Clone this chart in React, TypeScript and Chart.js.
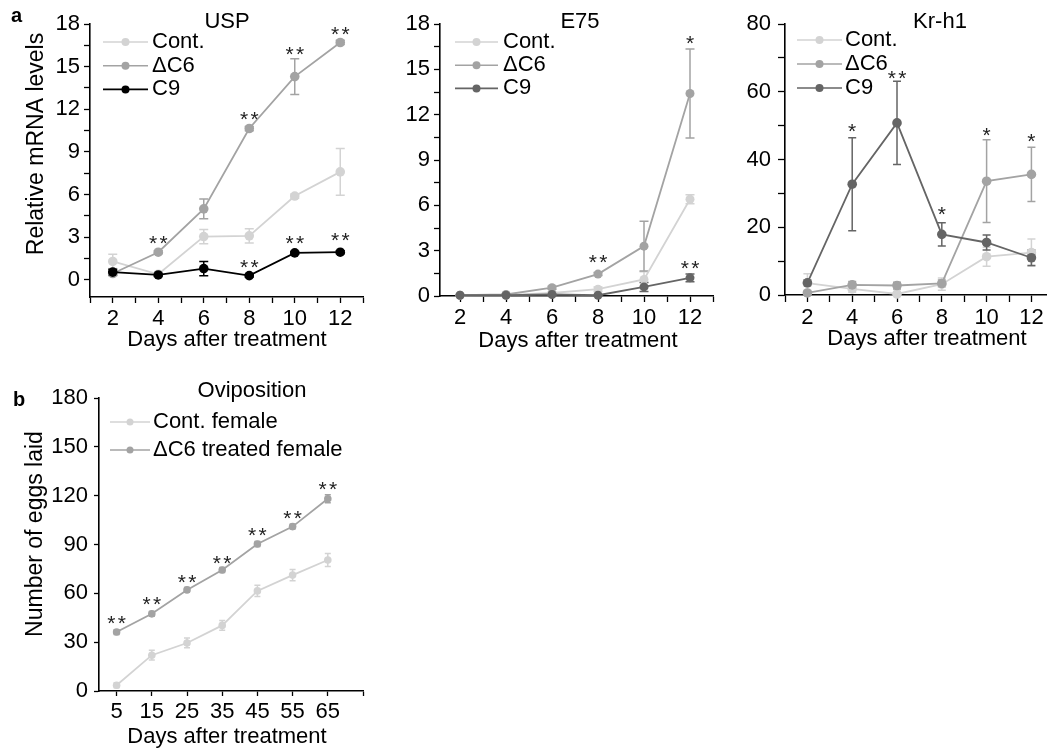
import React, { useEffect, useRef } from 'react';
import { Chart, registerables } from 'chart.js';

Chart.register(...registerables);

const FONT = "'Liberation Sans', Arial, Helvetica, sans-serif";
const C_CONT = '#d3d3d3';
const C_DC6 = '#a3a3a3';
const C_C9_BLACK = '#000000';
const C_C9_GRAY = '#656565';

// ---------- data ----------
const DAYS = [2, 4, 6, 8, 10, 12];

const USP_CONT = [1.3, 0.4, 3.05, 3.1, 5.9, 7.6];
const USP_CONT_ERR = [0.5, 0.1, 0.5, 0.5, 0.15, 1.65];
const USP_DC6 = [0.45, 1.95, 5.0, 10.65, 14.3, 16.7];
const USP_DC6_ERR = [0.15, 0.1, 0.7, 0.15, 1.25, 0.15];
const USP_C9 = [0.55, 0.35, 0.8, 0.3, 1.9, 1.95];
const USP_C9_ERR = [0.2, 0.1, 0.5, 0.1, 0.1, 0.1];
const USP_SIG_X = [4, 8, 10, 12, 8, 10, 12];
const USP_SIG_Y = [3.0, 1.3, 3.0, 3.2, 11.7, 16.3, 17.7];
const USP_SIG_TXT = ['**', '**', '**', '**', '**', '**', '**'];

const E75_CONT = [0.05, 0.05, 0.2, 0.45, 1.1, 6.4];
const E75_CONT_ERR = [0.02, 0.02, 0.05, 0.15, 0.5, 0.3];
const E75_DC6 = [0.05, 0.1, 0.55, 1.45, 3.3, 13.4];
const E75_DC6_ERR = [0.02, 0.05, 0.1, 0.1, 1.65, 2.95];
const E75_C9 = [0.05, 0.05, 0.1, 0.05, 0.6, 1.2];
const E75_C9_ERR = [0.02, 0.02, 0.05, 0.02, 0.3, 0.25];
const E75_SIG_X = [8, 12, 12];
const E75_SIG_Y = [2.6, 17.1, 2.25];
const E75_SIG_TXT = ['**', '*', '**'];

const KR_CONT = [3.5, 1.8, 0.3, 3.2, 11.3, 12.5];
const KR_CONT_ERR = [2.8, 1.0, 0.5, 1.8, 2.8, 4.0];
const KR_DC6 = [0.6, 3.0, 2.8, 3.4, 33.6, 35.6];
const KR_DC6_ERR = [0.5, 1.0, 1.0, 1.0, 12.2, 8.0];
const KR_C9 = [3.6, 32.7, 50.8, 17.9, 15.5, 11.0];
const KR_C9_ERR = [0.8, 13.7, 12.3, 3.4, 2.2, 2.3];
const KR_SIG_X = [4, 6, 8, 10, 12];
const KR_SIG_Y = [49.9, 65.8, 25.4, 49, 47.2];
const KR_SIG_TXT = ['*', '**', '*', '*', '*'];

const OVI_DAYS = [5, 15, 25, 35, 45, 55, 65];
const OVI_CONT = [3.5, 22, 29.5, 40.3, 61.5, 71.2, 80.5];
const OVI_CONT_ERR = [1.5, 3, 3, 3, 3.5, 3.5, 4];
const OVI_DC6 = [36.2, 47.4, 62.1, 74.3, 90.3, 101, 118.1];
const OVI_DC6_ERR = [1.5, 1.5, 1.5, 1.5, 1.5, 1.5, 2.5];
const OVI_SIG_X = [5, 15, 25, 35, 45, 55, 65];
const OVI_SIG_Y = [45.2, 56.6, 70.6, 82.2, 99.4, 109.8, 127.2];
const OVI_SIG_TXT = ['**', '**', '**', '**', '**', '**', '**'];

// ---------- ticks ----------
const DAY_TICKS_USP = [1, 2, 3, 4, 5, 6, 7, 8, 9, 10, 11, 12, 13];
const DAY_TICKS_E75 = [2, 3, 4, 5, 6, 7, 8, 9, 10, 11, 12, 13];
const DAY_TICKS_KR = [1, 2, 3, 4, 5, 6, 7, 8, 9, 10, 11, 12];
const DAY_LABELS = [2, 4, 6, 8, 10, 12];
const Y_TICKS_18 = [0, 1.5, 3, 4.5, 6, 7.5, 9, 10.5, 12, 13.5, 15, 16.5, 18];
const Y_LABELS_18 = [0, 3, 6, 9, 12, 15, 18];
const Y_TICKS_80 = [0, 10, 20, 30, 40, 50, 60, 70, 80];
const Y_LABELS_80 = [0, 20, 40, 60, 80];
const OVI_X_TICKS = [5, 15, 25, 35, 45, 55, 65, 75];
const OVI_X_LABELS = [5, 15, 25, 35, 45, 55, 65];
const OVI_Y_TICKS = [0, 30, 60, 90, 120, 150, 180];
const OVI_Y_LABELS = [0, 30, 60, 90, 120, 150, 180];

type Series = { label: string; values: number[]; err: number[]; color: string; order: number };
type TextItem = { text: string; x: number; y: number; font: string; align?: CanvasTextAlign; rotate?: boolean };
type PanelCfg = {
  id: string;
  canvas: { x: number; y: number; w: number; h: number };
  area: { left: number; top: number; right: number; bottom: number };
  xs: number[];
  series: Series[];
  xMin: number; xMax: number; xTicks: number[]; xLabels: number[];
  yMin: number; yMax: number; yTicks: number[]; yLabels: number[];
  tickLen: number; yPad: number;
  pointR: number; cap: number;
  sigX: number[]; sigY: number[]; sigTxt: string[];
  legend: { x0: number; x1: number; tx: number; y0: number; dy: number; r: number };
  texts: TextItem[];
};

const F22 = `22px ${FONT}`;
const F23 = `23px ${FONT}`;
const FB20 = `bold 20px ${FONT}`;

const PANELS: PanelCfg[] = [
  {
    id: 'usp',
    canvas: { x: 0, y: 0, w: 372, h: 360 },
    area: { left: 90, top: 24, right: 363, bottom: 297 },
    xs: DAYS,
    series: [
      { label: 'Cont.', values: USP_CONT, err: USP_CONT_ERR, color: C_CONT, order: 2 },
      { label: 'ΔC6', values: USP_DC6, err: USP_DC6_ERR, color: C_DC6, order: 1 },
      { label: 'C9', values: USP_C9, err: USP_C9_ERR, color: C_C9_BLACK, order: 0 },
    ],
    xMin: 1, xMax: 13, xTicks: DAY_TICKS_USP, xLabels: DAY_LABELS,
    yMin: -1.2, yMax: 18, yTicks: Y_TICKS_18, yLabels: Y_LABELS_18,
    tickLen: 6, yPad: 4, pointR: 4.8, cap: 4.5,
    sigX: USP_SIG_X, sigY: USP_SIG_Y, sigTxt: USP_SIG_TXT,
    legend: { x0: 103, x1: 148, tx: 152, y0: 42, dy: 23.7, r: 4 },
    texts: [
      { text: 'USP', x: 227, y: 22, font: F22 },
      { text: 'Days after treatment', x: 227, y: 340, font: F22 },
      { text: 'Relative mRNA levels', x: 37, y: 144, font: F23, rotate: true },
      { text: 'a', x: 11, y: 16, font: FB20, align: 'left' },
    ],
  },
  {
    id: 'e75',
    canvas: { x: 372, y: 0, w: 348, h: 360 },
    area: { left: 440, top: 24, right: 713, bottom: 296 },
    xs: DAYS,
    series: [
      { label: 'Cont.', values: E75_CONT, err: E75_CONT_ERR, color: C_CONT, order: 2 },
      { label: 'ΔC6', values: E75_DC6, err: E75_DC6_ERR, color: C_DC6, order: 1 },
      { label: 'C9', values: E75_C9, err: E75_C9_ERR, color: C_C9_GRAY, order: 0 },
    ],
    xMin: 1.13, xMax: 13, xTicks: DAY_TICKS_E75, xLabels: DAY_LABELS,
    yMin: 0, yMax: 18, yTicks: Y_TICKS_18, yLabels: Y_LABELS_18,
    tickLen: 6, yPad: 4, pointR: 4.5, cap: 4.5,
    sigX: E75_SIG_X, sigY: E75_SIG_Y, sigTxt: E75_SIG_TXT,
    legend: { x0: 455, x1: 498, tx: 503, y0: 42, dy: 23.2, r: 4 },
    texts: [
      { text: 'E75', x: 580, y: 22, font: F22 },
      { text: 'Days after treatment', x: 578, y: 341, font: F22 },
    ],
  },
  {
    id: 'kr',
    canvas: { x: 720, y: 0, w: 331, h: 360 },
    area: { left: 785, top: 24, right: 1049, bottom: 295 },
    xs: DAYS,
    series: [
      { label: 'Cont.', values: KR_CONT, err: KR_CONT_ERR, color: C_CONT, order: 2 },
      { label: 'ΔC6', values: KR_DC6, err: KR_DC6_ERR, color: C_DC6, order: 1 },
      { label: 'C9', values: KR_C9, err: KR_C9_ERR, color: C_C9_GRAY, order: 0 },
    ],
    xMin: 1, xMax: 12.66, xTicks: DAY_TICKS_KR, xLabels: DAY_LABELS,
    yMin: 0, yMax: 80, yTicks: Y_TICKS_80, yLabels: Y_LABELS_80,
    tickLen: 7, yPad: 7, pointR: 4.8, cap: 4,
    sigX: KR_SIG_X, sigY: KR_SIG_Y, sigTxt: KR_SIG_TXT,
    legend: { x0: 797, x1: 842, tx: 845, y0: 40, dy: 24, r: 4 },
    texts: [
      { text: 'Kr-h1', x: 940, y: 22, font: F22 },
      { text: 'Days after treatment', x: 927, y: 339, font: F22 },
    ],
  },
  {
    id: 'ovi',
    canvas: { x: 0, y: 360, w: 372, h: 391 },
    area: { left: 99, top: 398, right: 363, bottom: 691 },
    xs: OVI_DAYS,
    series: [
      { label: 'Cont. female', values: OVI_CONT, err: OVI_CONT_ERR, color: C_CONT, order: 1 },
      { label: 'ΔC6 treated female', values: OVI_DC6, err: OVI_DC6_ERR, color: C_DC6, order: 0 },
    ],
    xMin: 0, xMax: 75, xTicks: OVI_X_TICKS, xLabels: OVI_X_LABELS,
    yMin: 0, yMax: 180, yTicks: OVI_Y_TICKS, yLabels: OVI_Y_LABELS,
    tickLen: 5, yPad: 6, pointR: 3.8, cap: 3,
    sigX: OVI_SIG_X, sigY: OVI_SIG_Y, sigTxt: OVI_SIG_TXT,
    legend: { x0: 110, x1: 150, tx: 153, y0: 422, dy: 28, r: 3.5 },
    texts: [
      { text: 'Oviposition', x: 252, y: 391, font: F22 },
      { text: 'Days after treatment', x: 227, y: 737, font: F22 },
      { text: 'Number of eggs laid', x: 36, y: 534, font: F23, rotate: true },
      { text: 'b', x: 13, y: 400, font: FB20, align: 'left' },
    ],
  },
];

function makeDecor(cfg: PanelCfg) {
  const ox = cfg.canvas.x;
  const oy = cfg.canvas.y;
  const sorted = [...cfg.series].sort((a, b) => b.order - a.order);
  return {
    id: 'decor_' + cfg.id,
    beforeDatasetsDraw(chart: any) {
      const ctx = chart.ctx as CanvasRenderingContext2D;
      const xs = chart.scales.x;
      const ys = chart.scales.y;
      ctx.save();
      ctx.lineWidth = 1.5;
      sorted.forEach((s) => {
        ctx.strokeStyle = s.color;
        cfg.xs.forEach((x, i) => {
          const e = s.err[i];
          if (!e) return;
          const px = xs.getPixelForValue(x);
          const y1 = ys.getPixelForValue(s.values[i] + e);
          const y2 = ys.getPixelForValue(s.values[i] - e);
          ctx.beginPath();
          ctx.moveTo(px, y1);
          ctx.lineTo(px, y2);
          ctx.moveTo(px - cfg.cap, y1);
          ctx.lineTo(px + cfg.cap, y1);
          ctx.moveTo(px - cfg.cap, y2);
          ctx.lineTo(px + cfg.cap, y2);
          ctx.stroke();
        });
      });
      ctx.restore();
    },
    afterDatasetsDraw(chart: any) {
      const ctx = chart.ctx as CanvasRenderingContext2D;
      const xs = chart.scales.x;
      const ys = chart.scales.y;
      ctx.save();
      ctx.fillStyle = '#222';
      ctx.font = `21px ${FONT}`;
      ctx.textAlign = 'center';
      ctx.textBaseline = 'alphabetic';
      cfg.sigX.forEach((x, i) => {
        const px = xs.getPixelForValue(x);
        const py = ys.getPixelForValue(cfg.sigY[i]) + 12.5;
        const txt = cfg.sigTxt[i];
        const n = txt.length;
        const gap = 10.5;
        for (let k = 0; k < n; k++) {
          ctx.fillText('*', px + (k - (n - 1) / 2) * gap, py);
        }
      });
      ctx.restore();
    },
    afterDraw(chart: any) {
      const ctx = chart.ctx as CanvasRenderingContext2D;
      ctx.save();
      // legend
      const L = cfg.legend;
      cfg.series.forEach((s, i) => {
        const y = L.y0 + i * L.dy - oy;
        ctx.strokeStyle = s.color;
        ctx.lineWidth = 1.6;
        ctx.beginPath();
        ctx.moveTo(L.x0 - ox, y);
        ctx.lineTo(L.x1 - ox, y);
        ctx.stroke();
        ctx.fillStyle = s.color;
        ctx.beginPath();
        ctx.arc((L.x0 + L.x1) / 2 - ox, y, L.r, 0, Math.PI * 2);
        ctx.fill();
        ctx.fillStyle = '#000';
        ctx.font = F22;
        ctx.textAlign = 'left';
        ctx.textBaseline = 'middle';
        ctx.fillText(s.label, L.tx - ox, y);
      });
      // texts
      cfg.texts.forEach((t) => {
        ctx.fillStyle = '#000';
        ctx.font = t.font;
        ctx.textAlign = t.align || 'center';
        ctx.textBaseline = 'middle';
        if (t.rotate) {
          ctx.save();
          ctx.translate(t.x - ox, t.y - oy);
          ctx.rotate(-Math.PI / 2);
          ctx.fillText(t.text, 0, 0);
          ctx.restore();
        } else {
          ctx.fillText(t.text, t.x - ox, t.y - oy);
        }
      });
      ctx.restore();
    },
  };
}

function Panel({ cfg }: { cfg: PanelCfg }) {
  const ref = useRef<HTMLCanvasElement>(null);
  useEffect(() => {
    const c = cfg.canvas;
    const a = cfg.area;
    const chart = new Chart(ref.current as HTMLCanvasElement, {
      type: 'line',
      data: {
        datasets: cfg.series.map((s) => ({
          label: s.label,
          data: cfg.xs.map((x, i) => ({ x, y: s.values[i] })),
          borderColor: s.color,
          backgroundColor: s.color,
          pointBackgroundColor: s.color,
          pointBorderColor: s.color,
          borderWidth: 1.8,
          pointRadius: cfg.pointR,
          pointHoverRadius: cfg.pointR,
          pointBorderWidth: 0,
          order: s.order,
          clip: false as any,
          tension: 0,
        })),
      },
      options: {
        responsive: false,
        animation: false,
        devicePixelRatio: 1,
        events: [],
        layout: { padding: { left: 0, top: a.top - c.y, right: c.x + c.w - a.right, bottom: 0 } },
        plugins: { legend: { display: false }, tooltip: { enabled: false }, title: { display: false } },
        scales: {
          x: {
            type: 'linear',
            min: cfg.xMin,
            max: cfg.xMax,
            afterBuildTicks: (s: any) => {
              s.ticks = cfg.xTicks.map((v) => ({ value: v }));
            },
            afterFit: (s: any) => {
              s.height = c.y + c.h - a.bottom;
            },
            grid: { drawOnChartArea: false, drawTicks: true, tickLength: cfg.tickLen, tickColor: '#000', tickWidth: 1.3 },
            border: { display: true, color: '#000', width: 1.6 },
            ticks: {
              autoSkip: false,
              maxRotation: 0,
              minRotation: 0,
              padding: 3,
              color: '#000',
              font: { family: FONT, size: 22 },
              callback: (v: any) => (cfg.xLabels.includes(Number(v)) ? String(v) : ''),
            },
          },
          y: {
            type: 'linear',
            min: cfg.yMin,
            max: cfg.yMax,
            afterBuildTicks: (s: any) => {
              s.ticks = cfg.yTicks.map((v) => ({ value: v }));
            },
            afterFit: (s: any) => {
              s.width = a.left - c.x;
            },
            grid: { drawOnChartArea: false, drawTicks: true, tickLength: cfg.tickLen, tickColor: '#000', tickWidth: 1.3 },
            border: { display: true, color: '#000', width: 1.6 },
            ticks: {
              autoSkip: false,
              padding: cfg.yPad,
              color: '#000',
              font: { family: FONT, size: 22 },
              callback: (v: any) => (cfg.yLabels.includes(Number(v)) ? String(v) : ''),
            },
          },
        },
      } as any,
      plugins: [makeDecor(cfg) as any],
    });
    return () => chart.destroy();
  }, [cfg]);
  return (
    <canvas
      ref={ref}
      width={cfg.canvas.w}
      height={cfg.canvas.h}
      style={{ position: 'absolute', left: cfg.canvas.x, top: cfg.canvas.y, width: cfg.canvas.w, height: cfg.canvas.h }}
    />
  );
}

export default function App() {
  return (
    <div style={{ position: 'absolute', left: 0, top: 0, width: 1051, height: 751, background: '#fff', overflow: 'hidden' }}>
      {PANELS.map((p) => (
        <Panel key={p.id} cfg={p} />
      ))}
    </div>
  );
}
